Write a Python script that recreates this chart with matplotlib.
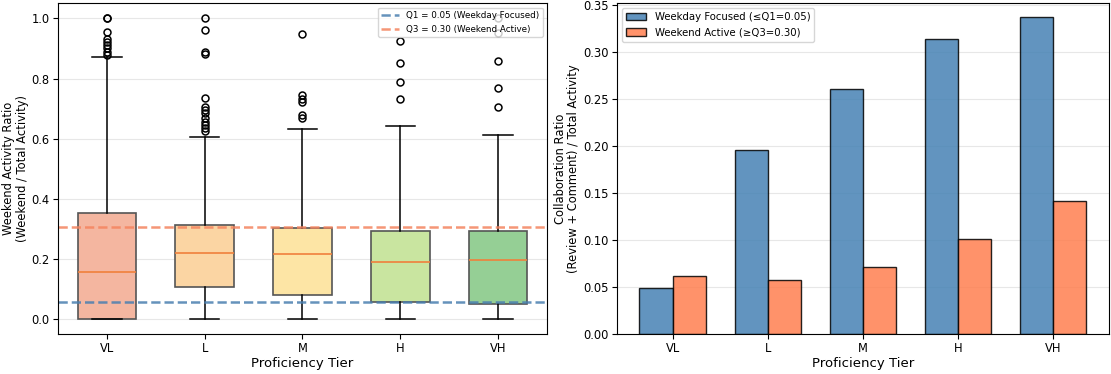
import matplotlib.pyplot as plt
import numpy as np

tiers = ['VL', 'L', 'M', 'H', 'VH']

# box stats
q1s = [0.0, 0.105, 0.080, 0.058, 0.051]
medians = [0.155, 0.221, 0.216, 0.188, 0.195]
q3s = [0.351, 0.311, 0.304, 0.294, 0.293]
whis_lo = [0.0, 0.0, 0.0, 0.0, 0.0]
whis_hi = [0.870, 0.605, 0.633, 0.642, 0.613]
fliers = [
    [1.0, 1.0, 0.956, 0.933, 0.922, 0.911, 0.900, 0.889, 0.878],
    [1.0, 0.963, 0.887, 0.881, 0.735, 0.704, 0.695, 0.684, 0.668, 0.656, 0.645, 0.635, 0.627],
    [0.949, 0.745, 0.731, 0.721, 0.679, 0.668],
    [0.925, 0.850, 0.787, 0.732],
    [1.0, 0.950, 0.858, 0.768, 0.704],
]
q1_line = 0.055
q3_line = 0.305

# collaboration ratio bars (right panel)
weekday_focused = [0.0486, 0.1964, 0.2607, 0.3136, 0.3371]
weekend_active = [0.0614, 0.0579, 0.0711, 0.1007, 0.1418]

box_colors = ['#f4b6a0', '#fbd5a3', '#fde5a5', '#c9e5a0', '#95cf95']

fig = plt.figure(figsize=(11.11, 3.74), dpi=100)
ax1 = fig.add_axes([0.0522, 0.107, 0.4401, 0.884])
ax2 = fig.add_axes([0.5554, 0.107, 0.4426, 0.884])

stats = []
for i in range(len(tiers)):
    stats.append({'med': medians[i], 'q1': q1s[i], 'q3': q3s[i],
                  'whislo': whis_lo[i], 'whishi': whis_hi[i],
                  'fliers': fliers[i], 'label': tiers[i]})
bp = ax1.bxp(stats, widths=0.6, patch_artist=True,
             flierprops=dict(marker='o', markersize=5, markerfacecolor='none',
                             markeredgecolor='black', markeredgewidth=1.1),
             medianprops=dict(color='#f0803c', linewidth=1.2),
             whiskerprops=dict(linewidth=1.1),
             capprops=dict(linewidth=1.1))
for patch, c in zip(bp['boxes'], box_colors):
    patch.set_facecolor(c)
    patch.set_edgecolor('#555555')
    patch.set_linewidth(1.2)

ax1.axhline(q1_line, color='#4a7fb0', linestyle='--', linewidth=1.8, alpha=0.85,
            label='Q1 = 0.05 (Weekday Focused)')
ax1.axhline(q3_line, color='#f4845f', linestyle='--', linewidth=1.8, alpha=0.85,
            label='Q3 = 0.30 (Weekend Active)')
ax1.set_ylim(-0.05, 1.05)
ax1.set_xlabel('Proficiency Tier', fontsize=9.5, labelpad=1)
ax1.set_ylabel('Weekend Activity Ratio\n(Weekend / Total Activity)', fontsize=8.3,
               labelpad=2, linespacing=1.05)
ax1.grid(axis='y', alpha=0.3)
ax1.set_axisbelow(True)
ax1.tick_params(labelsize=8.3, pad=2.5)
ax1.legend(loc='upper right', fontsize=6.3)

x = np.arange(len(tiers))
w = 0.35
ax2.bar(x - w / 2, weekday_focused, w, color='steelblue', alpha=0.85,
        edgecolor='black', linewidth=1, label='Weekday Focused (≤Q1=0.05)')
ax2.bar(x + w / 2, weekend_active, w, color='coral', alpha=0.85,
        edgecolor='black', linewidth=1, label='Weekend Active (≥Q3=0.30)')
ax2.set_xticks(x)
ax2.set_xticklabels(tiers)
ax2.set_ylim(0, 0.352)
ax2.set_xlabel('Proficiency Tier', fontsize=9.5, labelpad=1)
ax2.set_ylabel('Collaboration Ratio\n(Review + Comment) / Total Activity', fontsize=8.3,
               labelpad=2, linespacing=1.05)
ax2.grid(axis='y', alpha=0.3)
ax2.set_axisbelow(True)
ax2.tick_params(labelsize=8.3, pad=2.5)
ax2.legend(loc='upper left', fontsize=7.3)

plt.savefig('out.png', dpi=100)
